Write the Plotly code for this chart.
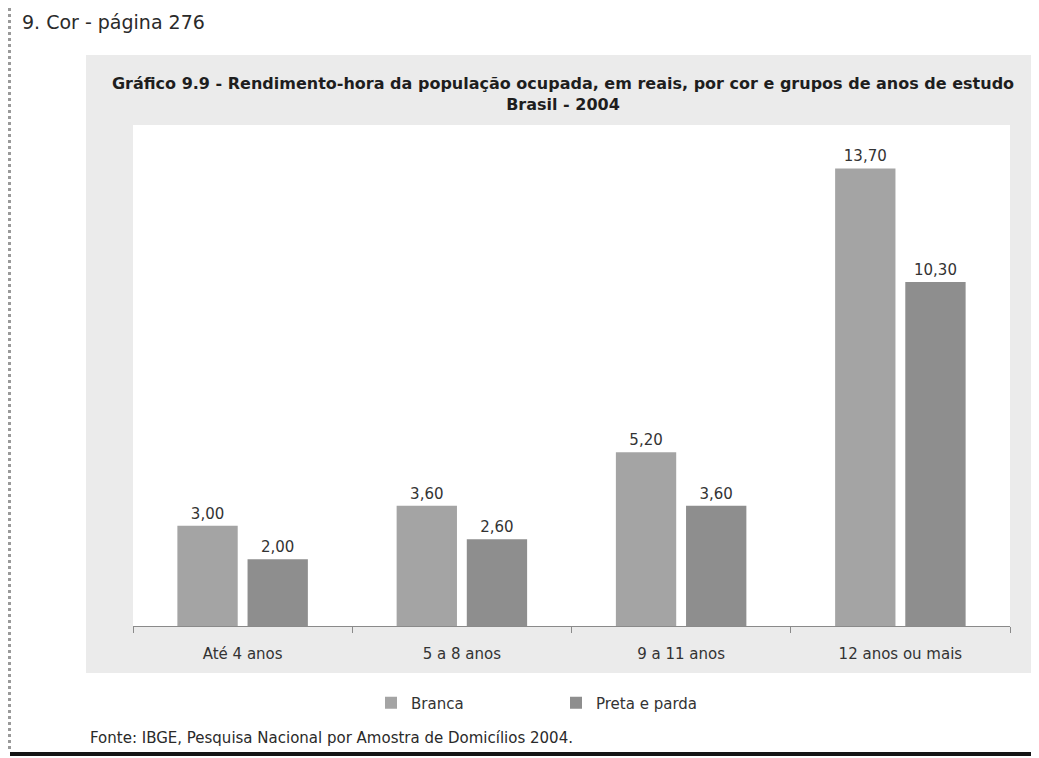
import plotly.graph_objects as go

categories = ["Até 4 anos", "5 a 8 anos", "9 a 11 anos", "12 anos ou mais"]
branca = [3.00, 3.60, 5.20, 13.70]
preta_parda = [2.00, 2.60, 3.60, 10.30]
series_names = ["Branca", "Preta e parda"]

header_text = "9. Cor - página 276"
title_text = ("Gráfico 9.9 - Rendimento-hora da população ocupada, em reais, "
              "por cor e grupos de anos de estudo<br>Brasil - 2004")
source_text = "Fonte: IBGE, Pesquisa Nacional por Amostra de Domicílios 2004."

FONT = "DejaVu Sans, Verdana, sans-serif"
TXT = "#333333"

# the page body adds an 8px margin, so the figure is sized to the remaining window
OFF = 8
W, H = 1031, 750
PLOT_L, PLOT_R, PLOT_T, PLOT_B = 133, 1010, 125, 626  # window pixel positions
L = PLOT_L - OFF
R = W - (PLOT_R - OFF)
T = PLOT_T - OFF
B = H - (PLOT_B - OFF)
PW = W - L - R
PH = H - T - B


def px_x(p):
    return (p - PLOT_L) / PW


def px_y(p):
    return (PLOT_B - p) / PH


bar_text_font = dict(size=15, color=TXT, family=FONT)

fig = go.Figure()
fig.add_trace(go.Bar(
    name=series_names[0], x=categories, y=branca,
    marker=dict(color="#a4a4a4", line=dict(width=10, color="rgba(0,0,0,0)")),
    texttemplate="%{y:.2f}", textposition="outside",
    textfont=bar_text_font, cliponaxis=False,
))
fig.add_trace(go.Bar(
    name=series_names[1], x=categories, y=preta_parda,
    marker=dict(color="#8e8e8e", line=dict(width=10, color="rgba(0,0,0,0)")),
    texttemplate="%{y:.2f}", textposition="outside",
    textfont=bar_text_font, cliponaxis=False,
))

shapes = [
    # gray panel
    dict(type="rect", xref="paper", yref="paper", layer="below",
         x0=px_x(86), x1=px_x(1031), y0=px_y(673), y1=px_y(55),
         fillcolor="#ebebeb", line=dict(width=0)),
    # white plot area
    dict(type="rect", xref="paper", yref="paper", layer="below",
         x0=0, x1=1, y0=0, y1=1,
         fillcolor="#ffffff", line=dict(width=0)),
    # left dotted border
    dict(type="line", xref="paper", yref="paper",
         x0=px_x(9.5), x1=px_x(9.5), y0=px_y(8), y1=px_y(752),
         line=dict(color="#9a9a9a", width=3, dash="dot")),
    # bottom dark border
    dict(type="line", xref="paper", yref="paper",
         x0=px_x(10), x1=px_x(1039), y0=px_y(754), y1=px_y(754),
         line=dict(color="#151515", width=4)),
]

annotations = [
    dict(text=header_text, xref="paper", yref="paper",
         x=px_x(20), y=px_y(22), xanchor="left", yanchor="middle",
         showarrow=False, font=dict(size=19, color="#2a2a2a", family=FONT)),
    dict(text=source_text, xref="paper", yref="paper",
         x=px_x(88), y=px_y(738), xanchor="left", yanchor="middle",
         showarrow=False, font=dict(size=15, color="#2a2a2a", family=FONT)),
]

fig.update_layout(
    width=W, height=H,
    margin=dict(l=L, r=R, t=T, b=B, pad=0),
    paper_bgcolor="#ffffff", plot_bgcolor="#ffffff",
    separators=",.",
    barmode="group", bargap=0.36, bargroupgap=0.14,
    font=dict(family=FONT, color=TXT, size=15),
    title=dict(text=title_text, xref="paper", x=px_x(563), xanchor="center",
               yref="container", y=1 - 81 / H, yanchor="top",
               font=dict(size=16, color="#1e1e1e", family=FONT, weight="bold")),
    showlegend=True,
    legend=dict(orientation="h", x=px_x(371), y=px_y(703),
                xanchor="left", yanchor="middle",
                bgcolor="rgba(0,0,0,0)", entrywidth=140, entrywidthmode="pixels",
                font=dict(size=15, color=TXT, family=FONT)),
    shapes=shapes, annotations=annotations,
)
fig.update_xaxes(
    type="category", range=[-0.5, 3.5], showgrid=False,
    showline=True, linecolor="#8a8a8a", linewidth=1,
    ticks="outside", tickson="boundaries", ticklen=6, tickcolor="#8a8a8a",
    ticklabelstandoff=14,
    tickfont=dict(size=15, color=TXT, family=FONT), zeroline=False,
)
fig.update_yaxes(range=[0, 15], visible=False, showgrid=False, zeroline=False)

fig.write_html("out.html")
